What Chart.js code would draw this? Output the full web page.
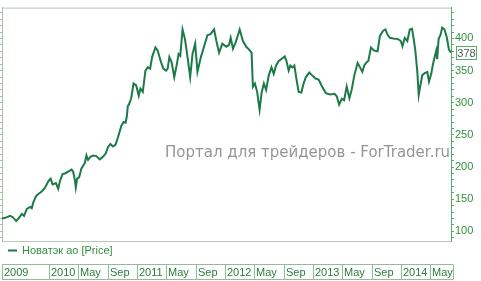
<!DOCTYPE html>
<html>
<head>
<meta charset="utf-8">
<script src="https://cdn.jsdelivr.net/npm/chart.js@4"></script>
<style>
  html, body { margin: 0; padding: 0; background: #fff; }
  #wrap { width: 481px; height: 281px; }
</style>
</head>
<body>
<div id="wrap"><canvas id="chart"></canvas></div>
<script>
// месяцы от января 2009 (12 = янв 2010)
const months = [
  5.6, 6.03, 6.71, 7.08, 7.53, 7.84, 8.30, 8.61, 8.98, 9.42, 9.65, 9.87, 10.24, 10.55, 11.01, 11.46, 11.91,
  12.23, 12.50, 12.95, 13.26, 13.49, 13.86, 14.17, 14.62, 15.08, 15.29, 15.53, 15.66, 15.84, 16.11, 16.43,
  16.88, 17.11, 17.33, 17.65, 18.01, 18.47, 18.92, 19.36, 19.73, 20.04, 20.37, 20.72, 21.08, 21.40, 21.86,
  22.17, 22.44, 22.62, 22.75, 22.89, 23.21, 23.53, 23.89, 24.24, 24.47, 24.79, 25.15, 25.46, 25.79, 26.06,
  26.51, 26.82, 27.28, 27.59, 27.96, 28.18, 28.41, 28.72, 29.08, 29.40, 29.67, 29.90, 30.21, 30.54, 30.89,
  31.25, 31.57, 31.93, 32.24, 32.71, 33.15, 33.60, 34.06, 34.51, 34.82, 35.19, 35.63, 36.18, 36.54, 36.77,
  37.08, 37.45, 38.00, 38.44, 38.89, 39.25, 39.62, 39.80, 40.07, 40.38, 40.71, 40.98, 41.29, 41.60, 41.97,
  42.33, 42.64, 42.96, 43.32, 43.69, 44.14, 44.37, 44.68, 44.91, 45.22, 45.45, 45.72, 46.03, 46.40, 46.71,
  47.02, 47.48, 47.84, 48.30, 48.75, 49.19, 49.74, 50.33, 50.92, 51.23, 51.55, 51.91, 52.23, 52.58, 52.95,
  53.26, 53.63, 54.07, 54.40, 54.71, 54.98, 55.30, 55.53, 55.89, 56.34, 56.79, 57.11, 57.56, 57.87, 58.14,
  58.47, 58.92, 59.59, 59.96, 60.18, 60.50, 60.85, 61.18, 61.49, 61.72, 61.94, 62.21, 62.40, 62.67, 62.89,
  63.21, 63.57, 63.80, 64.11, 64.34, 64.57, 64.79, 64.92, 65.11, 65.38, 65.60, 65.92, 66.24, 66.51, 66.78
];
const prices = [
  120, 121, 124, 122, 116, 120, 127, 124, 135, 138, 136, 145, 155, 158, 162, 168, 178,
  182, 173, 175, 166, 178, 189, 190, 193, 196, 193, 180, 168, 182, 184, 198,
  206, 218, 211, 216, 218, 217, 212, 216, 221, 231, 236, 232, 235, 246, 264,
  270, 269, 279, 295, 297, 307, 330, 327, 311, 322, 317, 350, 355, 353, 371,
  386, 381, 363, 353, 350, 353, 371, 363, 340, 358, 376, 373, 414, 399, 371,
  340, 376, 392, 348, 371, 388, 405, 407, 414, 396, 378, 392, 387, 390, 401,
  384, 394, 414, 396, 387, 383, 378, 325, 330, 317, 289, 315, 330, 320, 343,
  355, 345, 358, 365, 368, 372, 365, 350, 358, 355, 358, 338, 317, 316, 330,
  340, 347, 343, 338, 336, 326, 315, 313, 314, 310, 297, 306, 304, 325, 307,
  320, 343, 362, 355, 348, 358, 363, 365, 386, 381, 380, 404, 412, 414, 406,
  401, 400, 399, 396, 388, 401, 396, 414, 415, 399, 381, 348, 312, 330, 343,
  346, 348, 333, 345, 360, 371, 381, 368, 399, 406, 417, 414, 401, 383, 378
];
const tickMonths = [5.6, 12, 16, 20, 24, 28, 32, 36, 40, 44, 48, 52, 56, 60, 64];
const tickLabels = ['2009', '2010', 'May', 'Sep', '2011', 'May', 'Sep', '2012', 'May', 'Sep', '2013', 'May', 'Sep', '2014', 'May'];
const seriesName = 'Новатэк ао [Price]';
const watermark = 'Портал для трейдеров - ForTrader.ru';

const lineColor = '#1c7a47';
const axisGreen = '#5aa86a';
const labelGreen = '#2f8f3f';
const fontFamily = '"Liberation Sans", Arial, sans-serif';

// рамка, шкала дат, легенда, водяной знак и метка последней цены
const decorPlugin = {
  id: 'decor',
  beforeDraw(chart) {
    const { ctx, chartArea: a } = chart;
    ctx.save();
    ctx.strokeStyle = '#b8c4bc';
    ctx.lineWidth = 1;
    ctx.strokeRect(a.left + 0.5, a.top + 0.5, a.right - a.left, a.bottom - a.top);
    ctx.restore();
  },
  afterDraw(chart) {
    const { ctx, chartArea: a } = chart;
    const xs = chart.scales.x;
    const ys = chart.scales.y;
    ctx.save();

    // водяной знак
    ctx.font = '15px "DejaVu Sans", Verdana, sans-serif';
    ctx.fillStyle = 'rgba(130,130,130,0.85)';
    ctx.textBaseline = 'alphabetic';
    ctx.textAlign = 'left';
    ctx.fillText(watermark, 165, 157);

    // легенда
    ctx.strokeStyle = lineColor;
    ctx.lineWidth = 2;
    ctx.beginPath();
    ctx.moveTo(8, 250.5);
    ctx.lineTo(17, 250.5);
    ctx.stroke();
    ctx.font = '11px ' + fontFamily;
    ctx.fillStyle = labelGreen;
    ctx.textBaseline = 'middle';
    ctx.fillText(chart.data.datasets[0].label, 22, 251);

    // шкала дат в ячейках
    const top = 264.5, bottom = 279.5;
    const right = a.right + 2;
    const cells = tickMonths.map(v => Math.round(xs.getPixelForValue(v)));
    cells[0] = 2;
    ctx.strokeStyle = '#8fbf97';
    ctx.lineWidth = 1;
    ctx.beginPath();
    ctx.moveTo(2, top); ctx.lineTo(right, top);
    ctx.moveTo(2, bottom); ctx.lineTo(right, bottom);
    cells.forEach(px => {
      ctx.moveTo(px + 0.5, top); ctx.lineTo(px + 0.5, bottom);
    });
    ctx.moveTo(right + 0.5, top); ctx.lineTo(right + 0.5, bottom);
    ctx.stroke();
    ctx.fillStyle = '#2a7a3a';
    ctx.font = '11px ' + fontFamily;
    ctx.textAlign = 'left';
    ctx.textBaseline = 'middle';
    cells.forEach((px, i) => ctx.fillText(tickLabels[i], px + 2, 272.5));

    // последняя цена
    const last = prices[prices.length - 1];
    const py = Math.round(ys.getPixelForValue(last));
    ctx.fillStyle = '#fff';
    ctx.fillRect(456, py - 7, 21, 14);
    ctx.strokeStyle = axisGreen;
    ctx.strokeRect(456.5, py - 6.5, 20, 13);
    ctx.fillStyle = '#505a55';
    ctx.textAlign = 'center';
    ctx.fillText(String(last), 466.5, py + 0.5);
    ctx.restore();
  }
};

new Chart(document.getElementById('chart'), {
  type: 'line',
  data: {
    datasets: [{
      label: seriesName,
      data: months.map((m, i) => ({ x: m, y: prices[i] })),
      borderColor: lineColor,
      borderWidth: 2,
      pointRadius: 0,
      tension: 0,
      fill: false
    }]
  },
  options: {
    responsive: true,
    maintainAspectRatio: false,
    animation: false,
    layout: { padding: { left: 0, right: 4, top: 2, bottom: 40 } },
    plugins: { legend: { display: false }, tooltip: { enabled: false } },
    scales: {
      x: {
        type: 'linear',
        display: false,
        min: 5.6,
        max: 66.8
      },
      y: {
        position: 'right',
        min: 85,
        max: 448,
        afterFit: axis => { axis.width = 26; },
        ticks: {
          stepSize: 10,
          autoSkip: false,
          includeBounds: false,
          padding: 1,
          color: labelGreen,
          font: { size: 11, family: fontFamily },
          callback: v => (v % 50 === 0 ? String(v) : '')
        },
        grid: { drawOnChartArea: false, tickLength: 3, color: axisGreen },
        border: { color: axisGreen }
      },
      yl: {
        position: 'left',
        min: 85,
        max: 448,
        afterFit: axis => { axis.width = 2; },
        ticks: { display: false, stepSize: 10, includeBounds: false },
        grid: { drawOnChartArea: false, tickLength: 2, color: '#9fc7a6' },
        border: { color: '#a9c2ae' }
      }
    }
  },
  plugins: [decorPlugin]
});
</script>
</body>
</html>
